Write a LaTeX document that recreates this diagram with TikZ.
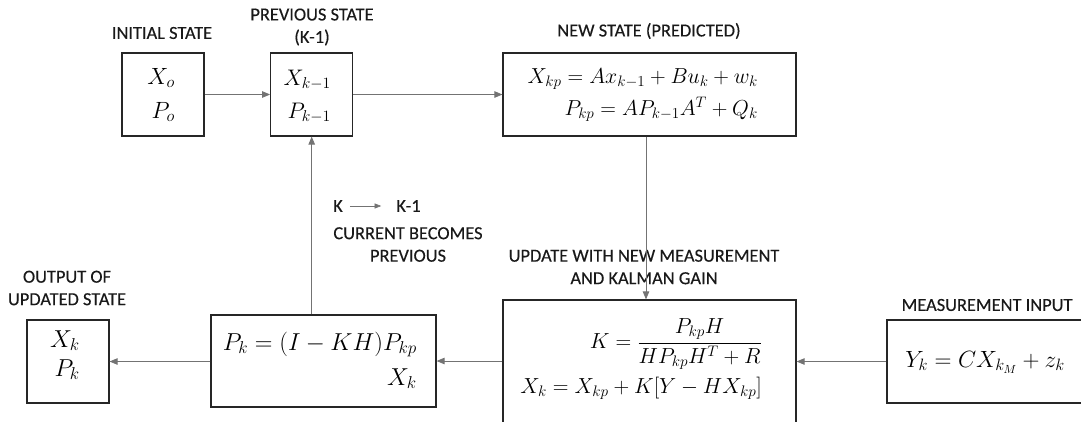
\RequirePackage{fix-cm}
\documentclass[tikz,border=0pt]{standalone}
\usepackage{fontspec}
\setmainfont{Carlito}
\newfontfamily\lblfont{Carlito}[FakeBold=0.3]
\usetikzlibrary{arrows.meta}
\begin{document}
\begin{tikzpicture}[x=1pt,y=-1pt,
  box/.style={draw=black!85, line width=1.2pt, inner sep=0pt},
  lbl/.style={font=\lblfont\fontsize{18.4}{22.5}\selectfont, text=black!90, align=center, inner sep=0pt},
  eq/.style={font=\fontsize{#1}{24}\selectfont, inner sep=0pt, anchor=base east},
  conn/.style={draw=black!55, line width=0.8pt, -{Triangle[length=8pt,width=6.5pt]}}]
\useasboundingbox (0,0) rectangle (1081,421);
\clip (0,0) rectangle (1081,421);
% boxes
\node[box, minimum width=82pt, minimum height=83pt] (init) at (163,94.5) {};
\node[box, minimum width=82pt, minimum height=83pt] (prev) at (311.7,94.5) {};
\node[box, minimum width=293pt, minimum height=83pt] (new) at (649.5,94.5) {};
\node[box, minimum width=293pt, minimum height=140pt] (upd) at (649.5,370) {};
\node[box, minimum width=225pt, minimum height=92pt] (mid) at (323.5,361) {};
\node[box, minimum width=82pt, minimum height=83pt] (out) at (68,361.5) {};
\node[box, minimum width=213pt, minimum height=83pt] (meas) at (993.5,361.5) {};
\coordinate (vx) at (646,0);
% formulas
\node[eq=23.5] (xo) at (175,84) {$X_o$};
\node[eq=23.5] (po) at (175,118) {$P_o$};
\node[eq=22.5] (xkm) at (331,85) {$X_{k-1}$};
\node[eq=22.5] (pkm) at (331,118) {$P_{k-1}$};
\node[eq=21.7] (xkp) at (758,83) {$X_{kp}=Ax_{k-1}+Bu_k+w_k$};
\node[eq=21.7] (pkp) at (758,115) {$P_{kp}=AP_{k-1}A^T+Q_k$};
\node[eq=21.8, anchor=east] (kg) at (762,344) {$\displaystyle K=\frac{P_{kp}H}{HP_{kp}H^T+R}$};
\node[eq=21.8] (xk) at (762,393) {$X_k=X_{kp}+K[Y-HX_{kp}]$};
\node[eq=24.5] (pk) at (417,350) {$P_k=(I-KH)P_{kp}$};
\node[eq=24.5] (xkmid) at (417,385) {$X_k$};
\node[eq=24.5] (xkout) at (80,347) {$X_k$};
\node[eq=24.5] (pkout) at (80,376) {$P_k$};
\node[eq=23.5] (yk) at (1065,367) {$Y_k=CX_{k_M}+z_k$};
% labels
\node[lbl] (linit) at (162,33) {INITIAL STATE};
\node[lbl] (lprev) at (312,27) {PREVIOUS STATE\\(K-1)};
\node[lbl] (lnew) at (649,31) {NEW STATE (PREDICTED)};
\node[lbl] (lupd) at (644,267) {UPDATE WITH NEW MEASUREMENT\\AND KALMAN GAIN};
\node[lbl] (lmeas) at (987,305) {MEASUREMENT INPUT};
\node[lbl] (lout) at (67,288) {OUTPUT OF\\UPDATED STATE};
\node[lbl] (lcur) at (408,244.5) {CURRENT BECOMES\\PREVIOUS};
\node[lbl] (kk) at (338,206) {K};
\node[lbl] (kk1) at (408.5,206) {K-1};
% connectors
\draw[conn] (init) -- (prev);
\draw[conn] (prev) -- (new);
\draw[conn] (new.south -| vx) -- (upd.north -| vx);
\draw[conn] (meas.west) -- (meas.west -| upd.east);
\draw[conn] (upd.west |- mid.east) -- (mid.east);
\draw[conn] (mid.west |- out.east) -- (out.east);
\draw[conn] (mid.north -| prev.south) -- (prev.south);
\draw[conn, line width=0.6pt, -{Triangle[length=6.5pt,width=5pt]}] ([xshift=7pt]kk.east) -- ([xshift=-15pt]kk1.west);
\end{tikzpicture}
\end{document}
